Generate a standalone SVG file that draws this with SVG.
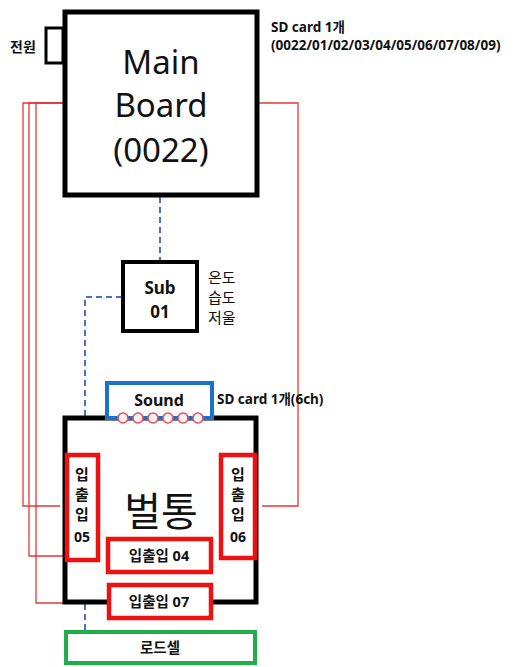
<svg xmlns="http://www.w3.org/2000/svg" width="522" height="667" viewBox="0 0 522 667">
<style>
.t{font-family:"Noto Sans","Noto Sans CJK KR",sans-serif;fill:#111}
.b{font-weight:bold}
.red{fill:none;stroke:#e83838;stroke-width:1.3}
.blu{fill:none;stroke:#4a72c4;stroke-width:2;stroke-dasharray:6,4}
.blk{fill:#fff;stroke:#000;stroke-width:5}
.rbox{fill:#fff;stroke:#ee1111;stroke-width:4.5}
</style>
<rect width="522" height="667" fill="#fff"/>
<g id="connectors">
<path class="red" d="M65,103 H23 V506 H60"/>
<path class="red" d="M65,103 H29 V556 H65"/>
<path class="red" d="M65,103 H36 V603 H66"/>
<path class="red" d="M258,103 H298 V506 H262"/>
<path class="blu" d="M160,197 V262"/>
<path class="blu" d="M122,297 H85 V416"/>
<path class="blu" d="M85,604 V632"/>
</g>
<g id="power">
<rect x="46" y="28" width="17" height="35" fill="#fff" stroke="#000" stroke-width="3"/>
<text class="t b" x="10" y="52" font-size="14">전원</text>
</g>
<g id="main">
<rect class="blk" x="65" y="12" width="192" height="183"/>
<text class="t" x="161" y="74" font-size="33" text-anchor="middle">Main</text>
<text class="t" x="161" y="117" font-size="33" text-anchor="middle">Board</text>
<text class="t" x="161" y="162" font-size="33" text-anchor="middle">(0022)</text>
</g>
<g id="sdcard-main">
<text class="t b" x="271" y="32" font-size="13.5">SD card 1개</text>
<text class="t b" x="271" y="50" font-size="13.5">(0022/01/02/03/04/05/06/07/08/09)</text>
</g>
<g id="sub01">
<rect x="123" y="262" width="74" height="69" fill="#fff" stroke="#000" stroke-width="4"/>
<text class="t b" x="160" y="294" font-size="17" text-anchor="middle">Sub</text>
<text class="t b" x="160" y="318" font-size="17" text-anchor="middle">01</text>
<text class="t" x="208" y="283" font-size="15">온도</text>
<text class="t" x="208" y="303" font-size="15">습도</text>
<text class="t" x="208" y="323" font-size="15">저울</text>
</g>
<g id="hive">
<rect class="blk" x="65" y="418" width="191" height="184"/>
<text class="t" x="161" y="526" font-size="40" text-anchor="middle">벌통</text>
</g>
<g id="sound">
<rect x="107" y="383" width="105" height="35" fill="#fff" stroke="#1a73c8" stroke-width="4"/>
<text class="t b" x="159" y="406" font-size="16" text-anchor="middle">Sound</text>
<g fill="#fff3f3" stroke="#e84a5a" stroke-width="1.5">
<circle cx="123" cy="418" r="5"/><circle cx="138" cy="418" r="5"/><circle cx="153" cy="418" r="5"/>
<circle cx="168" cy="418" r="5"/><circle cx="183" cy="418" r="5"/><circle cx="198" cy="418" r="5"/>
</g>
<text class="t b" x="217" y="404" font-size="13.5">SD card 1개(6ch)</text>
</g>
<g id="io05">
<rect class="rbox" x="67" y="455" width="31" height="105"/>
<text class="t b" x="82" y="480" font-size="15" text-anchor="middle">입</text>
<text class="t b" x="82" y="500" font-size="15" text-anchor="middle">출</text>
<text class="t b" x="82" y="520" font-size="15" text-anchor="middle">입</text>
<text class="t b" x="82" y="542" font-size="14" text-anchor="middle">05</text>
</g>
<g id="io06">
<rect class="rbox" x="221" y="455" width="34" height="103"/>
<text class="t b" x="238" y="480" font-size="15" text-anchor="middle">입</text>
<text class="t b" x="238" y="500" font-size="15" text-anchor="middle">출</text>
<text class="t b" x="238" y="520" font-size="15" text-anchor="middle">입</text>
<text class="t b" x="238" y="542" font-size="14" text-anchor="middle">06</text>
</g>
<g id="io04">
<rect class="rbox" x="108" y="539" width="103" height="33"/>
<text class="t b" x="159" y="561" font-size="14.5" text-anchor="middle">입출입 04</text>
</g>
<g id="io07">
<rect class="rbox" x="109" y="585" width="102" height="33"/>
<text class="t b" x="159" y="607" font-size="14.5" text-anchor="middle">입출입 07</text>
</g>
<g id="loadcell">
<rect x="66" y="632" width="189" height="31" fill="#fff" stroke="#1fae4a" stroke-width="4"/>
<text class="t b" x="160" y="653" font-size="14.5" text-anchor="middle">로드셀</text>
</g>
</svg>
